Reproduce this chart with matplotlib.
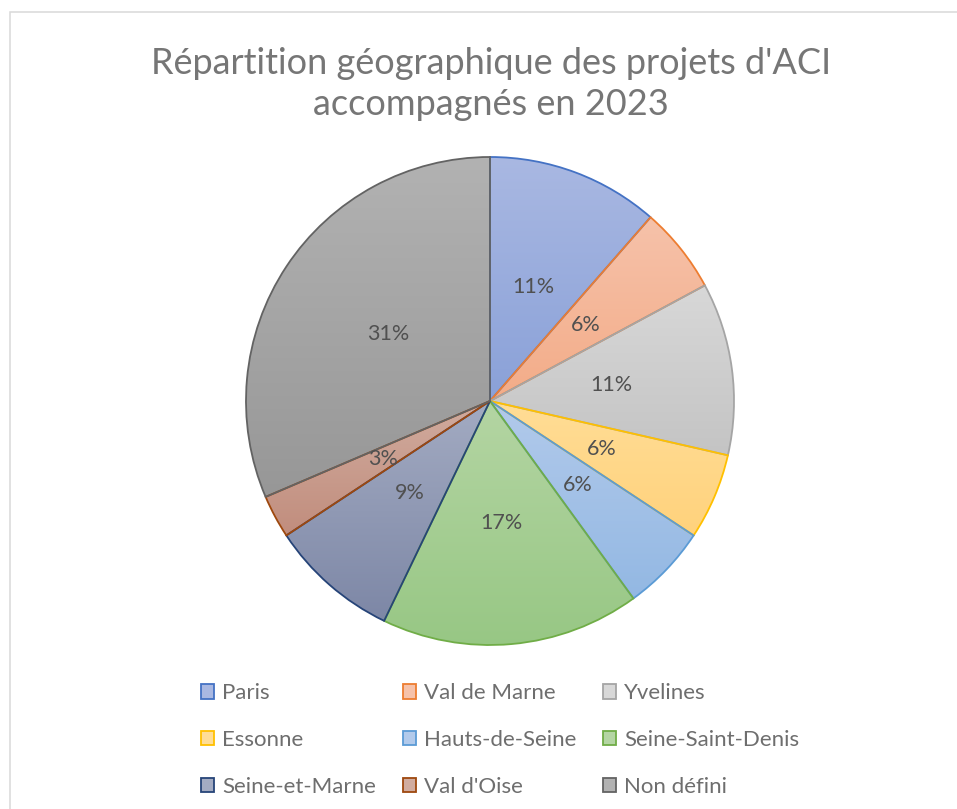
import matplotlib.pyplot as plt
import matplotlib.colors as mcolors
import numpy as np
from matplotlib.patches import Rectangle

plt.rcParams['font.family'] = ['Lato', 'DejaVu Sans']

# nombre de projets par departement (35 au total)
departements = ['Paris', 'Val de Marne', 'Yvelines', 'Essonne', 'Hauts-de-Seine',
                'Seine-Saint-Denis', 'Seine-et-Marne', "Val d'Oise", 'Non défini']
projets = [4, 2, 4, 2, 2, 6, 3, 1, 11]

bords = ['#4472C4', '#ED7D31', '#A5A5A5', '#FFC000', '#5B9BD5',
         '#70AD47', '#264478', '#9E480E', '#636363']
haut = ['#A9B8E2', '#F6C2AA', '#D8D8D8', '#FFDD96', '#B2CAEB',
        '#B4D5A3', '#A3ABC2', '#D1AC9F', '#B2B2B2']
bas = ['#8AA1D8', '#F3AC88', '#C4C4C4', '#FFD27C', '#93B8E3',
       '#97C784', '#7D87A6', '#C18D7D', '#979797']

fig = plt.figure(figsize=(9.57, 8.09), dpi=100)

# cadre de la zone de graphique
fig.patches.append(Rectangle((9.5 / 957, -0.1), 1.2, 1 - 12.5 / 809 + 0.1,
                             transform=fig.transFigure, fill=False,
                             edgecolor='#D9D9D9', linewidth=1.1))

ax = fig.add_axes([246 / 957, 164 / 809, 488 / 957, 488 / 809])

wedges, _, autotexts = ax.pie(
    projets, startangle=90, counterclock=False, radius=1,
    autopct=lambda p: f'{p:.0f}%', pctdistance=0.5,
    wedgeprops=dict(facecolor='none', linewidth=1.3),
    textprops=dict(color='#505050', fontsize=15.5))

for w, b, h, l in zip(wedges, bords, haut, bas):
    w.set_edgecolor(b)
    w.set_zorder(3)
    v = w.get_path().vertices
    x0, x1 = v[:, 0].min(), v[:, 0].max()
    y0, y1 = v[:, 1].min(), v[:, 1].max()
    cmap = mcolors.LinearSegmentedColormap.from_list('g', [l, h])
    grad = np.linspace(0, 1, 256).reshape(-1, 1)
    im = ax.imshow(grad, cmap=cmap, extent=(x0, x1, y0, y1), origin='lower',
                   aspect='auto', zorder=2, interpolation='bilinear')
    im.set_clip_path(w)

for t in autotexts:
    t.set_zorder(4)

ax.set_xlim(-1, 1)
ax.set_ylim(-1, 1)
ax.set_aspect('equal')
ax.axis('off')

fig.text(491 / 957, 1 - 84 / 809,
         "Répartition géographique des projets d'ACI\naccompagnés en 2023",
         ha='center', va='center', fontsize=26, color='#767676', linespacing=1.33)

# legende en lignes de trois
ordre = [0, 3, 6, 1, 4, 7, 2, 5, 8]
poignees = []
for i in ordre:
    poignees.append(Rectangle((0, 0), 1, 1, facecolor=haut[i], edgecolor=bords[i], linewidth=1.3))
leg = fig.legend(poignees, [departements[i] for i in ordre], ncol=3,
                 loc='center', bbox_to_anchor=(500 / 957, 1 - 740 / 809),
                 frameon=False, fontsize=16, handlelength=0.6, handleheight=0.6,
                 handletextpad=0.35, columnspacing=1.2, labelspacing=1.2)
for t in leg.get_texts():
    t.set_color('#6E6E6E')

fig.savefig('out.png', dpi=100)
